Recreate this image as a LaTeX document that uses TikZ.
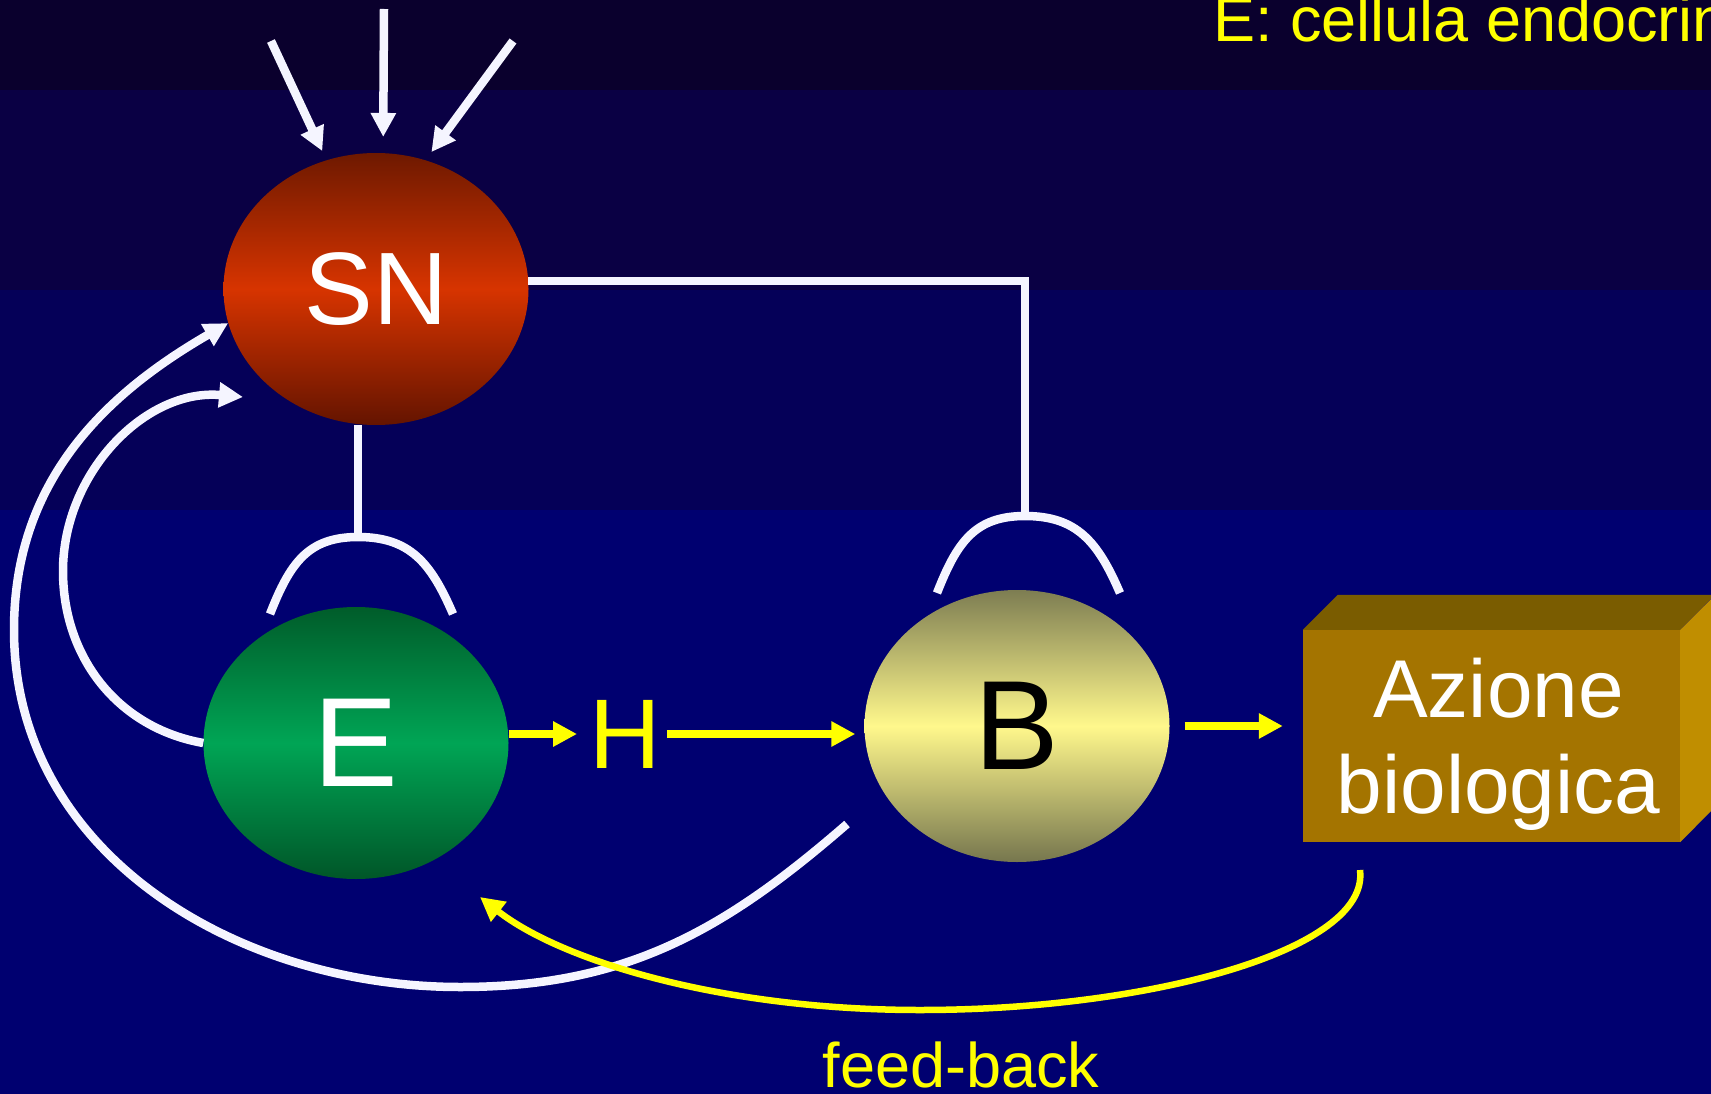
\documentclass[tikz,border=0pt]{standalone}
\usepackage{fontspec}
\setmainfont{Liberation Sans}
\setsansfont{Liberation Sans}
\usetikzlibrary{
  shapes,       % Shape "ellipse"
  arrows.meta,  % Tip "Triangle"
  positioning,
}
\definecolor{bgA}{RGB}{10,0,45}
\definecolor{bgB}{RGB}{10,0,68}
\definecolor{bgC}{RGB}{5,0,88}
\definecolor{bgD}{RGB}{0,0,112}
\definecolor{sigyellow}{RGB}{255,255,0}
\definecolor{wirewhite}{RGB}{245,245,255}
\definecolor{boxfront}{RGB}{164,116,0}
\definecolor{boxtop}{RGB}{122,92,0}
\definecolor{boxside}{RGB}{192,142,0}
\newcommand{\myfs}[1]{\fontsize{#1}{#1}\selectfont}
% receptor cap, drawn round its top point
\newcommand{\myhat}[1]{
  \draw[my wire,shift={(#1)}]
    (-88,-77) .. controls (-68,-26) and (-50,0) .. (0,0)
              .. controls (52,0) and (73,-26) .. (95,-77);
}
\def\mycellw{305pt}
\def\mycellh{272pt}
\tikzset{
  font=\sffamily,
  >={Triangle[length=24pt,width=24pt]},
  slide/.style={
    x=1pt,
    y=1pt
  },
  my cell/.style={
    ellipse,
    minimum width=\mycellw,
    minimum height=\mycellh,
    inner sep=0pt
  },
  red cell/.style={
    top color={rgb,255:red,110;green,25;blue,0},
    bottom color={rgb,255:red,100;green,20;blue,0},
    middle color={rgb,255:red,215;green,52;blue,0},
    text=white,
    font={\myfs{103}}
  },
  green cell/.style={
    top color={rgb,255:red,0;green,92;blue,42},
    bottom color={rgb,255:red,0;green,86;blue,40},
    middle color={rgb,255:red,0;green,165;blue,85},
    text=white,
    font={\myfs{127}}
  },
  pale cell/.style={
    top color={rgb,255:red,125;green,125;blue,82},
    bottom color={rgb,255:red,118;green,118;blue,78},
    middle color={rgb,255:red,255;green,248;blue,140},
    text=black,
    font={\myfs{127}}
  },
  my box/.style={
    rectangle,
    fill=boxfront,
    minimum width=377pt,
    minimum height=212pt,
    inner sep=0pt
  },
  box label/.style={
    align=center,
    inner sep=0pt,
    text=white,
    font={\fontsize{82}{96}\selectfont}
  },
  my text/.style={
    text=sigyellow,
    inner sep=0pt,
    font={\myfs{63}}
  },
  my wire/.style={
    draw=wirewhite,
    line width=8.5pt
  },
  my signal/.style={
    draw=sigyellow,
    line width=8pt
  }
}

\begin{document}
\begin{tikzpicture}[slide]
\useasboundingbox (0,0) rectangle (1711,-1094);
\foreach \ya/\yb/\c in {0/90/bgA,90/290/bgB,290/510/bgC,510/1094/bgD}
  \fill[\c] (0,-\ya) rectangle (1711,-\yb);

\node[my cell,red cell]   (SN)  at (376,-289)    {SN};
\node[my cell,green cell] (E)   at (356,-743)    {E};
\node[my cell,pale cell]  (B)   at (1017,-726)   {B};
\node[text=sigyellow,inner sep=0pt,font={\myfs{99}}]
                          (H)   at (625,-734)    {H};
\node[my box]             (Act) at (1491.5,-736) {};
\fill[boxtop]  (Act.north west) -- ++(35,35) -- ++(377,0) -- (Act.north east) -- cycle;
\fill[boxside] (Act.north east) -- ++(35,35) -- ++(0,-212) -- (Act.south east) -- cycle;
\node[box label] (ActL) at ([shift={(7,-8)}]Act.center) {Azione\\biologica};
\node[my text,anchor=base west] (title) at (1213,-42)  {E: cellula endocrina};
\node[my text,anchor=base]      (fb)    at (961,-1087) {feed-back};

\coordinate (in1)  at (271,-41);
\coordinate (in2)  at (384,-9);
\coordinate (in3)  at (513,-41);
\coordinate (Etop) at (358,-537);
\coordinate (Btop) at (1025,-516);
\coordinate (SNin) at (243,-397);
\coordinate (Bout) at (847,-824);
\coordinate (Afb)  at (1360,-870);
\coordinate (Efb)  at (480,-897);

\draw[my wire,->,shorten >=10pt] (in1) -- (SN.111);
\draw[my wire,->,shorten >=16pt] (in2) -- (SN.87);
\draw[my wire,->,shorten >=10pt] (in3) -- (SN.69);
\draw[my wire] (Etop |- SN.south) -- (Etop);
\draw[my wire] (SN.3) -| (Btop);
\myhat{Etop}
\myhat{Btop}
\draw[my wire,->] (E.west) to[out=170,in=270] (63,-571)
                           to[out=90,in=175] (SNin);
\draw[my wire,->] (Bout) to[out=221,in=0] (460,-987)
                         to[out=180,in=270] (14,-630)
                         to[out=90,in=210] (SN.193);

\draw[my signal,->,shorten >=12pt] (E.east |- H.west) -- (H.west);
\draw[my signal,->,shorten <=6pt,shorten >=9pt] (H.east) -- (H.east -| B.west);
\draw[my signal,->,shorten <=15pt,shorten >=20pt] (B.east) -- (B.east -| Act.west);
\draw[my signal,line width=6.5pt,->] (Afb) .. controls (1370,-950) and (1150,-1010) .. (920,-1010)
                                           .. controls (720,-1010) and (560,-960) .. (Efb);
\end{tikzpicture}
\end{document}
